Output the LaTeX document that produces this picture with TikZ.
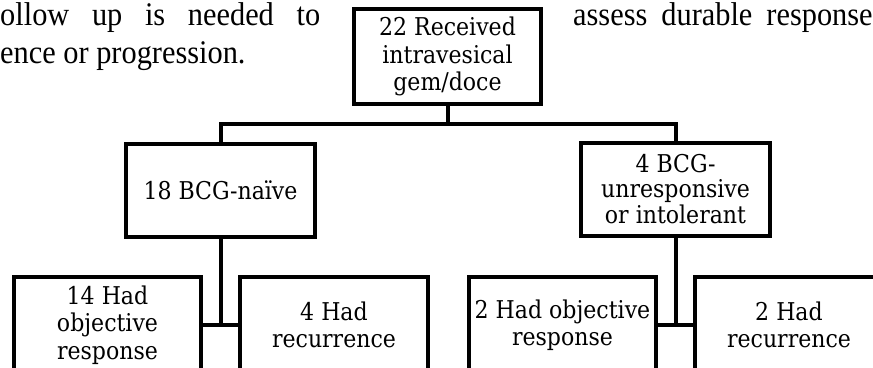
\documentclass[tikz,border=0pt]{standalone}
\usepackage{fontspec}
\setmainfont{DejaVu Serif}
\newfontfamily\boxfont[FakeStretch=0.9]{DejaVu Serif}
\newfontfamily\bgfont[FakeStretch=0.92]{Liberation Serif}
\begin{document}
\begin{tikzpicture}[x=1pt,y=-1pt,
  box/.style={draw, line width=4pt, rectangle, inner sep=0pt, align=center,
    font=\boxfont\fontsize{24.5}{27.5}\selectfont},
  topbox/.style={box, minimum width=187pt, minimum height=95pt},
  midbox/.style={box, minimum width=189pt, minimum height=93pt},
  lowbox/.style={box, minimum width=187pt, minimum height=96pt},
  conn/.style={line width=4pt},
  bgtext/.style={anchor=base west, inner sep=0pt, font=\bgfont\fontsize{33}{38}\selectfont}]
\useasboundingbox (0,0) rectangle (873,367);
\clip (0,0) rectangle (873,367);
% background page text
\node[bgtext] (l1) at (0,25) {\makebox[320pt][s]{ollow up is needed to}};
\node[bgtext] (l2) at (0,63) {ence or progression.};
\node[bgtext] (r1) at (573,25) {assess\hspace{14pt}durable\hspace{14pt}response};
% boxes
\node[topbox] (top) at (447.5,56.5) {22 Received\\intravesical\\gem/doce};
\node[midbox] (naive) at (220.5,190.5) {18 BCG-naïve};
\node[midbox, font=\boxfont\fontsize{24.5}{25.5}\selectfont] (unresp) at (675.5,189) {4 BCG-\\unresponsive\\or intolerant};
\node[lowbox] (b1) at (107.5,325) {14 Had\\objective\\response};
\node[lowbox, minimum width=188pt] (b2) at (334,325) {4 Had\\recurrence};
\node[lowbox] (b3) at (562.5,325) {2 Had objective\\response};
\node[lowbox, minimum width=188pt] (b4) at (789,325) {2 Had\\recurrence};
% connectors
\coordinate (bar) at (447.5,124);
\draw[conn] (top.south) -- (bar);
\draw[conn] (naive.north) |- (bar) -| (unresp.north);
\coordinate (j1) at (naive.south |- b1.east);
\coordinate (j2) at (unresp.south |- b3.east);
\draw[conn] (naive.south) -- (j1);
\draw[conn] (b1.east) -- (b2.west);
\draw[conn] (unresp.south) -- (j2);
\draw[conn] (b3.east) -- (b4.west);
\end{tikzpicture}
\end{document}
